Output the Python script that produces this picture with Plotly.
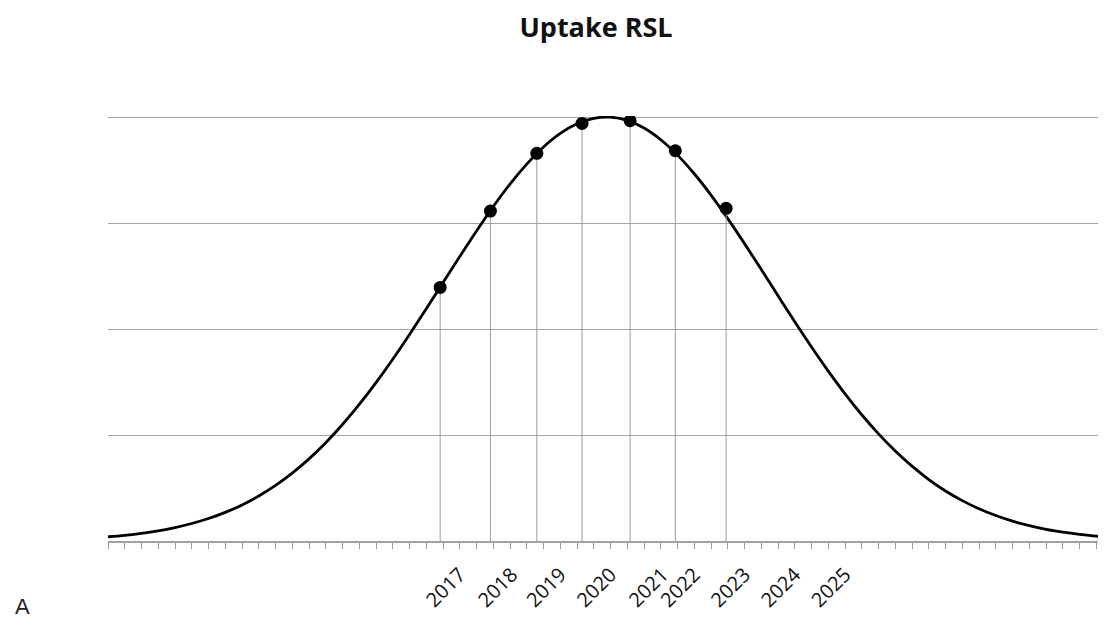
import plotly.graph_objects as go

# ---- data ----
curve_x = list(range(60)) + [59.4]
curve_y = [0.040, 0.054, 0.072, 0.096, 0.127, 0.165, 0.212, 0.270, 0.340, 0.425,
           0.525, 0.641, 0.775, 0.928, 1.099, 1.288, 1.494, 1.715, 1.949, 2.191,
           2.438, 2.684, 2.925, 3.156, 3.368, 3.556, 3.718, 3.846, 3.937, 3.988,
           3.999, 3.968, 3.896, 3.786, 3.641, 3.465, 3.264, 3.042, 2.806, 2.562,
           2.314, 2.069, 1.831, 1.603, 1.389, 1.191, 1.011, 0.849, 0.706, 0.580,
           0.472, 0.381, 0.304, 0.240, 0.187, 0.145, 0.110, 0.084, 0.063, 0.046,
           0.042]

point_years = ["2017", "2018", "2019", "2020", "2021", "2022", "2023"]
point_x = [19.83, 22.83, 25.6, 28.3, 31.17, 33.87, 36.9]
point_y = [2.393, 3.113, 3.658, 3.940, 3.965, 3.682, 3.139]

label_text = ["2017", "2018", "2019", "2020", "2021", "2022", "2023", "2024", "2025"]
label_x = [21.0, 24.1, 27.0, 30.0, 33.1, 35.0, 38.0, 41.0, 44.0]

X_RANGE = [0, 59.4]
Y_RANGE = [0, 4.01]

# page has an 8px body margin: figure is drawn at (8, 8)
OFF = 8
W, H = 1106 - OFF, 622 - OFF
ML, MR, MT, MB = 108 - OFF, 2.5, 116 - OFF, 81

fig = go.Figure()

fig.add_trace(go.Scatter(
    x=curve_x, y=curve_y, mode="lines",
    line=dict(color="black", width=2.8, shape="spline"),
    hoverinfo="skip", showlegend=False,
))

fig.add_trace(go.Scatter(
    x=point_x, y=point_y, mode="markers",
    marker=dict(color="black", size=13),
    error_y=dict(type="data", symmetric=False, array=[0] * len(point_y),
                 arrayminus=point_y, width=0, color="#9a9a9a", thickness=1),
    text=point_years, hoverinfo="text", showlegend=False,
))

# invisible trace bound to second x axis for labels
fig.add_trace(go.Scatter(x=[X_RANGE[0]], y=[0], xaxis="x2", mode="markers",
                         marker=dict(opacity=0), hoverinfo="skip", showlegend=False))

fig.update_layout(
    width=W, height=H,
    margin=dict(l=ML, r=MR, t=MT, b=MB),
    paper_bgcolor="white", plot_bgcolor="white",
    title=dict(text="<b>Uptake RSL</b>", x=(596 - OFF) / W, xanchor="center",
               y=1 - (28 - OFF) / H, yanchor="middle", xref="container", yref="container",
               font=dict(family="Open Sans", size=27, color="#111")),
    xaxis=dict(range=X_RANGE, tickmode="linear", tick0=0, dtick=1,
               showticklabels=False, ticks="outside", ticklen=6, tickwidth=1,
               tickcolor="#999999", showgrid=False, zeroline=False,
               showline=True, linecolor="#a0a0a0", linewidth=1.5),
    xaxis2=dict(range=X_RANGE, overlaying="x", side="bottom", tickmode="array",
                tickvals=label_x, ticktext=label_text, tickangle=-45,
                ticks="", ticklabelstandoff=17, showgrid=False, zeroline=False,
                showline=False,
                tickfont=dict(family="Open Sans", size=20, color="#111", weight=500)),
    yaxis=dict(range=Y_RANGE, tickmode="linear", tick0=0, dtick=1,
               showticklabels=False, showgrid=True, gridcolor="#a3a3a3",
               gridwidth=1.3, zeroline=False, showline=False, ticks=""),
    annotations=[dict(text="A", x=0, y=0, xref="paper", yref="paper",
                      showarrow=False, xanchor="center", yanchor="middle",
                      borderpad=0,
                      font=dict(family="Liberation Sans", size=22, color="#222"))],
)
# convert pixel-based annotation position into paper coords of the plot area
pw = W - ML - MR
ph = H - MT - MB
fig.layout.annotations[0].x = (22 - OFF - ML) / pw
fig.layout.annotations[0].y = (H - MB - (606 - OFF)) / ph

fig.write_html("out.html")
